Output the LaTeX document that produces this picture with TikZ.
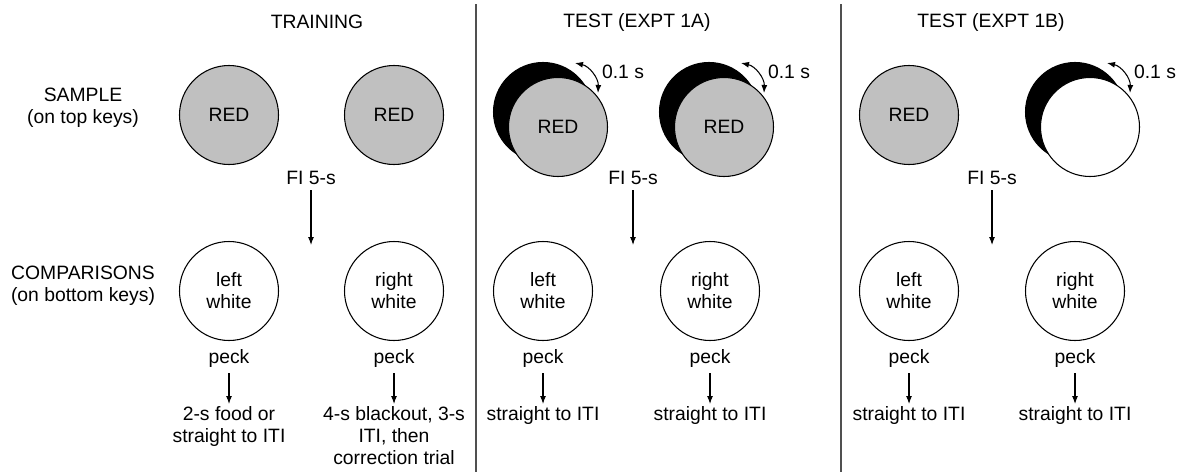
\documentclass[tikz,border=0pt]{standalone}
\usepackage{fontspec}
\setmainfont{Liberation Sans}
\usetikzlibrary{arrows.meta,positioning,calc}
\definecolor{keygrey}{RGB}{192,192,192}
\definecolor{rule}{RGB}{80,80,80}
\tikzset{
  key/.style={circle,draw=black,line width=.6pt,minimum size=1.98cm,inner sep=0pt,align=center},
  redkey/.style={key,fill=keygrey},
  whitekey/.style={key,fill=white},
  darkkey/.style={key,fill=black},
  lab/.style={align=center,inner sep=1pt},
  arr/.style={-{Latex[length=1.6mm,width=1.2mm]},line width=.6pt},
  flick/.style={{Latex[length=1.6mm,width=1.2mm]}-{Latex[length=1.6mm,width=1.2mm]},line width=.6pt,bend left=40},
  sep/.style={draw=rule,line width=.9pt}
}

\begin{document}
\begin{tikzpicture}[font=\fontsize{11}{12.6}\selectfont]
  \useasboundingbox (0,0) rectangle (23.64,-9.44);
  % column heads and rules
  \node (htr) at (6.34,-.44) {TRAINING};
  \node (hta) at (12.74,-.44) {TEST (EXPT 1A)};
  \node (htb) at (19.82,-.44) {TEST (EXPT 1B)};
  \draw[sep] (9.52,-.08) -- (9.52,-9.44);
  \draw[sep] (16.82,-.08) -- (16.82,-9.44);
  \node[lab] (rsam) at (1.66,-2.15) {SAMPLE\\(on top keys)};
  \node[lab] (rcmp) at (1.66,-5.72) {COMPARISONS\\(on bottom keys)};

  % sample keys
  \node[redkey] (s1) at (4.58,-2.3) {RED};
  \node[redkey] (s2) at (7.88,-2.3) {RED};
  \node[darkkey] (a1b) at (10.86,-2.24) {};
  \node[redkey] (a1) at (11.16,-2.54) {RED};
  \node[darkkey] (a2b) at (14.18,-2.24) {};
  \node[redkey] (a2) at (14.48,-2.54) {RED};
  \node[redkey] (b1) at (18.18,-2.3) {RED};
  \node[darkkey] (b2b) at (21.5,-2.24) {};
  \node[whitekey] (b2) at (21.8,-2.54) {};
  \foreach \k in {a1,a2,b2}{
    \coordinate (\k t) at ($(\k)+(.34,1.28)$);
    \coordinate (\k u) at ($(\k)+(.8,.68)$);
    \draw[flick] (\k t) to (\k u);
    \node (\k d) at ($(\k)+(1.3,1.1)$) {0.1 s};
  }

  % interval to the comparisons
  \foreach \f/\x in {ftr/6.22,fta/12.66,ftb/19.84}{
    \node (\f) at (\x,-3.55) {FI 5-s};
    \coordinate (\f e) at (\x,-4.9);
    \draw[arr] (\f) -- (\f e);
  }

  % comparison keys
  \foreach \c/\x/\s in {c1/4.58/left,c2/7.88/right,c3/10.86/left,c4/14.2/right,c5/18.18/left,c6/21.5/right}{
    \node[whitekey] (\c) at (\x,-5.82) {\s\\white};
    \node (\c p) at (\x,-7.16) {peck};
  }
  \node[lab,anchor=north] (c1r) at (4.58,-8.08) {2-s food or\\straight to ITI};
  \node[lab,anchor=north] (c2r) at (7.88,-8.08) {4-s blackout, 3-s\\ITI, then\\correction trial};
  \foreach \c in {c3,c4,c5,c6}{
    \node[lab,anchor=north] (\c r) at ($(\c p)+(0,-.92)$) {straight to ITI};
  }
  \foreach \c in {c1,c2,c3,c4,c5,c6}{
    \draw[arr] (\c p) -- (\c r);
  }
\end{tikzpicture}
\end{document}
